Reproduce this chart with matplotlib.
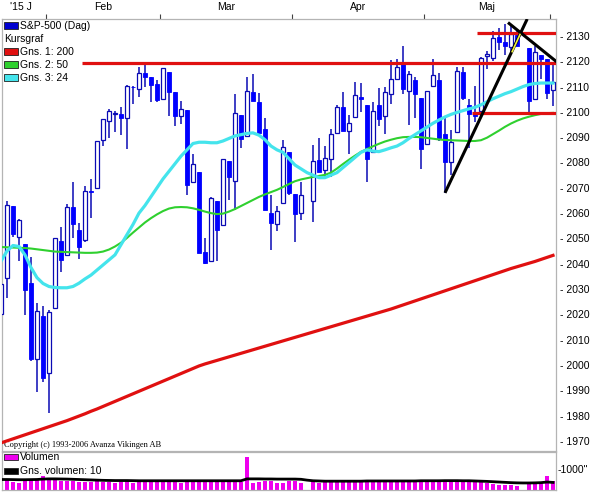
import matplotlib.pyplot as plt
from matplotlib.patches import Rectangle
import numpy as np

plt.rcParams['font.family'] = ['Liberation Sans', 'DejaVu Sans']

# one slot per weekday shown on the chart (Apr 3 and May 25 are empty slots)
days = ['Jan21', 'Jan22', 'Jan23', 'Jan26', 'Jan27', 'Jan28', 'Jan29', 'Jan30',
        'Feb2', 'Feb3', 'Feb4', 'Feb5', 'Feb6', 'Feb9', 'Feb10', 'Feb11', 'Feb12', 'Feb13',
        'Feb17', 'Feb18', 'Feb19', 'Feb20', 'Feb23', 'Feb24', 'Feb25', 'Feb26', 'Feb27',
        'Mar2', 'Mar3', 'Mar4', 'Mar5', 'Mar6', 'Mar9', 'Mar10', 'Mar11', 'Mar12', 'Mar13',
        'Mar16', 'Mar17', 'Mar18', 'Mar19', 'Mar20', 'Mar23', 'Mar24', 'Mar25', 'Mar26', 'Mar27',
        'Mar30', 'Mar31', 'Apr1', 'Apr2', 'Apr3', 'Apr6', 'Apr7', 'Apr8', 'Apr9', 'Apr10',
        'Apr13', 'Apr14', 'Apr15', 'Apr16', 'Apr17', 'Apr20', 'Apr21', 'Apr22', 'Apr23', 'Apr24',
        'Apr27', 'Apr28', 'Apr29', 'Apr30', 'May1', 'May4', 'May5', 'May6', 'May7', 'May8',
        'May11', 'May12', 'May13', 'May14', 'May15', 'May18', 'May19', 'May20', 'May21', 'May22',
        'May25', 'May26', 'May27', 'May28', 'May29', 'Jun1']

opens = [2020.2, 2034.3, 2063.0, 2050.4, 2047.9, 2032.3, 2002.5, 2019.4,
         1996.7, 2022.7, 2048.9, 2043.5, 2062.3, 2053.5, 2049.4, 2068.6, 2070.0, 2088.8,
         2096.5, 2099.2, 2099.3, 2097.7, 2109.8, 2109.1, 2115.3, 2113.9, 2110.9,
         2105.2, 2115.8, 2107.7, 2098.5, 2100.9, 2072.3, 2076.1, 2044.7, 2041.1, 2064.6,
         2055.4, 2080.6, 2072.8, 2098.7, 2090.3, 2108.0, 2103.9, 2093.1, 2059.9, 2055.8,
         2064.1, 2084.1, 2067.6, 2060.0, None, 2064.9, 2080.8, 2076.9, 2081.3, 2091.5,
         2102.0, 2092.3, 2097.8, 2106.0, 2102.6, 2084.1, 2102.8, 2098.3, 2107.2, 2112.8,
         2119.3, 2108.4, 2112.5, 2105.5, 2087.4, 2110.2, 2112.6, 2091.3, 2080.0, 2092.1,
         2115.6, 2102.9, 2099.6, 2100.4, 2122.1, 2121.3, 2129.5, 2127.8, 2125.6, 2130.4,
         None, 2125.3, 2105.1, 2122.3, 2120.7, 2108.6]
highs = [2038.3, 2064.6, 2063.0, 2057.6, 2047.9, 2042.5, 2024.6, 2023.3,
         2021.7, 2050.3, 2054.7, 2063.6, 2072.4, 2056.2, 2070.9, 2073.5, 2088.5, 2097.0,
         2101.3, 2100.2, 2102.1, 2110.6, 2110.1, 2117.9, 2119.6, 2113.9, 2112.7,
         2117.5, 2115.8, 2107.7, 2104.3, 2100.9, 2083.5, 2076.1, 2050.1, 2066.4, 2064.6,
         2081.4, 2080.6, 2106.9, 2098.7, 2113.9, 2114.9, 2107.6, 2097.4, 2067.2, 2062.8,
         2089.0, 2084.1, 2067.6, 2072.2, None, 2087.0, 2089.8, 2086.7, 2093.3, 2102.6,
         2107.7, 2098.6, 2111.9, 2111.3, 2102.6, 2103.9, 2109.6, 2110.0, 2120.5, 2120.9,
         2125.9, 2116.0, 2113.7, 2105.5, 2108.4, 2121.0, 2115.2, 2098.4, 2092.9, 2117.7,
         2117.7, 2105.1, 2110.2, 2121.5, 2123.9, 2131.8, 2133.0, 2134.7, 2134.3, 2132.2,
         None, 2125.3, 2126.2, 2122.3, 2120.7, 2119.2]
lows = [2012.0, 2026.4, 2050.5, 2041.0, 2019.9, 2001.5, 1989.2, 1993.4,
        1980.9, 2022.7, 2036.7, 2043.5, 2050.0, 2041.9, 2048.6, 2058.0, 2070.0, 2086.7,
        2089.8, 2092.2, 2090.8, 2085.4, 2103.0, 2105.9, 2109.9, 2103.8, 2103.8,
        2104.5, 2098.3, 2094.5, 2095.2, 2067.3, 2072.2, 2044.2, 2039.7, 2041.1, 2041.2,
        2055.4, 2065.1, 2061.2, 2085.6, 2090.3, 2104.4, 2091.5, 2061.1, 2045.5, 2053.0,
        2064.1, 2067.0, 2048.4, 2057.3, None, 2056.5, 2076.1, 2073.3, 2074.3, 2091.5,
        2092.3, 2083.2, 2097.8, 2100.0, 2072.4, 2084.1, 2094.4, 2091.1, 2103.2, 2112.8,
        2107.0, 2094.9, 2097.4, 2077.6, 2087.4, 2110.2, 2088.5, 2067.9, 2075.0, 2092.1,
        2104.6, 2085.6, 2096.0, 2100.4, 2116.8, 2120.0, 2124.5, 2122.6, 2123.0, 2126.1,
        None, 2099.2, 2105.1, 2112.9, 2104.9, 2102.5]
closes = [2032.1, 2063.2, 2051.8, 2057.1, 2029.6, 2002.2, 2021.3, 1995.0,
          2020.9, 2050.0, 2041.5, 2062.5, 2055.5, 2046.7, 2068.6, 2068.5, 2088.5, 2097.0,
          2100.3, 2099.7, 2097.5, 2110.3, 2109.7, 2115.5, 2113.9, 2110.7, 2104.5,
          2117.4, 2107.8, 2098.5, 2101.0, 2071.3, 2079.4, 2044.2, 2040.2, 2066.0, 2053.4,
          2081.2, 2074.3, 2099.5, 2089.3, 2108.1, 2104.4, 2091.5, 2061.1, 2056.2, 2061.0,
          2086.2, 2067.9, 2059.7, 2067.0, None, 2080.6, 2076.3, 2081.9, 2091.2, 2102.1,
          2092.4, 2095.8, 2106.6, 2105.0, 2081.2, 2100.4, 2097.3, 2108.0, 2112.9, 2117.7,
          2108.9, 2114.8, 2106.9, 2085.5, 2108.3, 2114.5, 2089.5, 2080.2, 2088.0, 2116.1,
          2105.3, 2099.1, 2098.5, 2121.1, 2122.7, 2129.2, 2127.8, 2125.9, 2130.8, 2126.1,
          None, 2104.2, 2123.5, 2120.8, 2107.4, 2111.7]

# moving averages, one value per slot
ma200 = [1969.2, 1970.0, 1970.8, 1971.6, 1972.4, 1973.2, 1974.0, 1974.8, 1975.6, 1976.4,
         1977.2, 1978.0, 1978.9, 1979.8, 1980.7, 1981.7, 1982.6, 1983.6, 1984.6, 1985.6,
         1986.6, 1987.6, 1988.6, 1989.6, 1990.6, 1991.6, 1992.6, 1993.6, 1994.6, 1995.6,
         1996.6, 1997.6, 1998.6, 1999.6, 2000.4, 2001.1, 2001.8, 2002.5, 2003.2, 2003.9,
         2004.6, 2005.3, 2006.0, 2006.7, 2007.4, 2008.1, 2008.8, 2009.5, 2010.2, 2010.9,
         2011.6, 2012.3, 2013.0, 2013.7, 2014.4, 2015.1, 2015.8, 2016.5, 2017.2, 2017.9,
         2018.6, 2019.3, 2020.0, 2020.7, 2021.4, 2022.1, 2022.9, 2023.7, 2024.5, 2025.3,
         2026.1, 2026.9, 2027.7, 2028.5, 2029.3, 2030.1, 2030.9, 2031.7, 2032.5, 2033.3,
         2034.1, 2034.9, 2035.7, 2036.5, 2037.3, 2038.1, 2038.8, 2039.5, 2040.2, 2040.9,
         2041.7, 2042.5, 2043.3]
ma50 = [2046.6, 2046.5, 2046.4, 2046.3, 2046.2, 2046.0, 2045.7, 2045.4, 2045.1, 2044.8,
        2044.7, 2044.6, 2044.5, 2044.4, 2044.3, 2044.3, 2044.4, 2044.8, 2045.6, 2046.8,
        2048.3, 2050.2, 2052.3, 2054.3, 2056.3, 2058.0, 2059.5, 2060.8, 2061.8, 2062.3,
        2062.4, 2062.3, 2061.9, 2061.3, 2060.6, 2060.0, 2059.6, 2059.8, 2060.6, 2061.6,
        2062.8, 2064.0, 2065.2, 2066.4, 2067.4, 2068.3, 2069.2, 2070.3, 2071.5, 2072.6,
        2073.3, 2073.8, 2074.3, 2074.7, 2075.1, 2076.0, 2077.6, 2079.4, 2081.1, 2082.7,
        2084.2, 2085.3, 2086.4, 2087.4, 2088.3, 2089.0, 2089.6, 2090.0, 2090.1, 2090.1,
        2090.0, 2089.7, 2089.4, 2089.1, 2088.9, 2088.8, 2088.7, 2088.6, 2088.5, 2088.5,
        2088.8, 2089.8, 2091.2, 2092.6, 2094.1, 2095.4, 2096.5, 2097.4, 2098.1, 2098.7,
        2099.2, 2099.5, 2099.6]
ma24 = [2041.0, 2045.0, 2047.2, 2046.8, 2043.5, 2038.5, 2034.5, 2032.2, 2031.0, 2030.6,
        2030.5, 2030.5, 2031.0, 2032.3, 2034.0, 2035.5, 2037.5, 2039.5, 2041.5, 2043.5,
        2047.5, 2051.5, 2055.5, 2060.0, 2063.0, 2066.5, 2070.0, 2073.5, 2076.5, 2079.5,
        2082.5, 2085.0, 2087.5, 2088.0, 2088.0, 2087.8, 2087.8, 2088.5, 2089.5, 2090.5,
        2091.0, 2091.5, 2091.7, 2090.8, 2089.0, 2086.5, 2085.0, 2084.0, 2081.5, 2079.0,
        2077.5, 2076.0, 2075.0, 2074.0, 2074.0, 2075.0, 2076.0, 2078.0, 2080.0, 2082.0,
        2084.0, 2085.0, 2084.5, 2084.3, 2085.0, 2085.8, 2086.5, 2087.8, 2089.5, 2091.0,
        2092.5, 2094.0, 2095.5, 2096.8, 2098.0, 2099.0, 2099.8, 2100.5, 2101.2, 2101.8,
        2102.8, 2104.0, 2105.2, 2106.2, 2107.2, 2108.0, 2109.0, 2110.0, 2110.8, 2111.2,
        2111.4, 2111.4, 2111.4]

volume = [430, 475, 380, 335, 430, 475, 525, 665, 525, 475, 430, 430, 430, 380, 380,
          380, 430, 380, 380, 335, 380, 430, 335, 380, 380, 380, 430, 380, 380, 380,
          335, 430, 380, 430, 430, 430, 380, 430, 380, 430, 380, 1570, 335, 380, 430,
          430, 335, 335, 430, 430, 335, None, 380, 335, 380, 380, 380, 380, 380, 430,
          380, 475, 380, 380, 380, 380, 380, 430, 430, 430, 475, 430, 380, 430, 475,
          430, 430, 380, 430, 380, 380, 335, 285, 240, 240, 240, 190, None, 380, 380,
          335, 665, 430]
vol_avg = [500, 500, 495, 490, 490, 495, 500, 520, 530, 530, 525, 520, 510, 500, 490,
           480, 470, 460, 455, 450, 450, 450, 445, 440, 440, 440, 440, 440, 440, 440,
           440, 440, 440, 440, 440, 440, 440, 440, 440, 440, 440, 530, 530, 530, 525,
           525, 520, 520, 520, 520, 510, 470, 440, 430, 420, 420, 420, 420, 420, 420,
           420, 430, 430, 430, 430, 430, 430, 430, 430, 430, 440, 440, 440, 440, 445,
           445, 445, 440, 440, 430, 420, 410, 395, 380, 365, 350, 340, 335, 335, 340,
           350, 380, 360]

# lines drawn by hand on the chart: (slot, price) pairs
hline_a = [(13.5, 2119.5), (92.6, 2119.5)]
hline_b = [(79.3, 2131.3), (92.6, 2131.3)]
hline_c = [(78.5, 2099.6), (92.6, 2099.6)]
trend_up = [(74.0, 2068.0), (87.7, 2136.7)]
trend_down = [(84.5, 2135.3), (92.6, 2119.8)]
trend_mark = [(85.2, 2123.8), (86.5, 2130.6)]

month_pos = [3.4, 17, 37.5, 59.5, 81]
month_labels = ["'15 J", 'Feb', 'Mar', 'Apr', 'Maj']
month_edges = [7.5, 26.5, 48.5, 70.5, 91.5]
price_ticks = list(range(1970, 2131, 10))

W, H = 592, 492
fig = plt.figure(figsize=(W / 100, H / 100), dpi=100)
ax = fig.add_axes([2 / W, (H - 451) / H, 554 / W, 432 / H])
axv = fig.add_axes([2 / W, (H - 490) / H, 554 / W, 38 / H])

blue = '#0000ff'
edge = '#0a0ab4'
x = np.arange(len(days))
ok = [i for i in x if opens[i] is not None]
o = np.array([opens[i] for i in ok])
h = np.array([highs[i] for i in ok])
l = np.array([lows[i] for i in ok])
c = np.array([closes[i] for i in ok])
xs = np.array(ok)
up = c >= o

ax.vlines(xs, l, h, color=edge, lw=1.1, zorder=2)
ax.bar(xs[up], (c - o)[up], bottom=o[up], width=0.75, color='white',
       edgecolor=edge, linewidth=0.9, zorder=3)
ax.bar(xs[~up], (o - c)[~up], bottom=c[~up], width=0.75, color=blue,
       edgecolor=blue, linewidth=0.6, zorder=3)

ax.plot(x, ma200, color='#e01010', lw=2.3, zorder=4)
ax.plot(x, ma50, color='#2fd02f', lw=1.5, zorder=4)
ax.plot(x, ma24, color='#44e4ec', lw=2.3, zorder=4)

for seg in (hline_a, hline_b, hline_c):
    ax.plot(*zip(*seg), color='#e01010', lw=2.3, zorder=5, solid_capstyle='butt')
for seg in (trend_up, trend_down):
    ax.plot(*zip(*seg), color='black', lw=2.2, zorder=6, solid_capstyle='butt')
ax.plot(*zip(*trend_mark), color='#f0f040', lw=1.2, zorder=7)

ax.set_xlim(0.17, 92.5)
ax.set_ylim(1966.0, 2136.7)

ax.xaxis.tick_top()
ax.set_xticks(month_pos)
ax.set_xticklabels(month_labels, fontsize=7.5)
ax.set_xticks(month_edges, minor=True)
ax.tick_params(axis='x', which='major', length=0, pad=5)
ax.tick_params(axis='x', which='minor', length=3.5, width=0.8, color='#404040',
               direction='out', top=True, bottom=False)

ax.yaxis.tick_right()
ax.set_yticks(price_ticks)
ax.set_yticklabels([f'- {v}' for v in price_ticks], fontsize=7.5)
ax.tick_params(axis='y', length=0, pad=3)

for a in (ax, axv):
    for s in a.spines.values():
        s.set_color('#b4b4b4')
        s.set_linewidth(0.9)

ax.text(0.003, 0.005, 'Copyright (c) 1993-2006 Avanza Vikingen AB', transform=ax.transAxes,
        fontsize=6, family=['Liberation Serif', 'DejaVu Serif'], va='bottom', ha='left')

# volume panel
vok = [i for i in x if volume[i] is not None]
axv.bar(vok, [volume[i] for i in vok], width=0.55, color='#ee00ee', zorder=2)
axv.plot(x, vol_avg, color='black', lw=2.0, zorder=3)
axv.set_xlim(0.17, 92.5)
axv.set_ylim(0, 1810)
axv.set_xticks([])
axv.yaxis.tick_right()
axv.set_yticks([1000])
axv.set_yticklabels(['-1000"'], fontsize=7.5)
axv.tick_params(axis='y', length=0, pad=1)


def fig_box(px, py, pw, ph, color):
    fig.add_artist(Rectangle((px / W, 1 - (py + ph) / H), pw / W, ph / H,
                             transform=fig.transFigure, facecolor=color,
                             edgecolor='#202020', linewidth=0.6, zorder=10))


def fig_label(px, py, s):
    fig.text(px / W, 1 - py / H, s, fontsize=7.5, va='center', ha='left', zorder=10)


fig_box(4, 22, 14, 7, '#0000d0')
fig_label(20, 26, 'S&P-500 (Dag)')
fig_label(4, 39, 'Kursgraf')
fig_box(4, 48, 14, 7, '#e01010')
fig_label(20, 52, 'Gns. 1: 200')
fig_box(4, 61, 14, 7, '#2fd02f')
fig_label(20, 65, 'Gns. 2: 50')
fig_box(4, 74, 14, 7, '#44e4ec')
fig_label(20, 78, 'Gns. 3: 24')

fig_box(4, 454, 14, 6, '#ee00ee')
fig_label(20, 457, 'Volumen')
fig_box(4, 468, 14, 6, 'black')
fig_label(20, 471, 'Gns. volumen: 10')

fig.savefig('out.png', dpi=100, facecolor='white')
